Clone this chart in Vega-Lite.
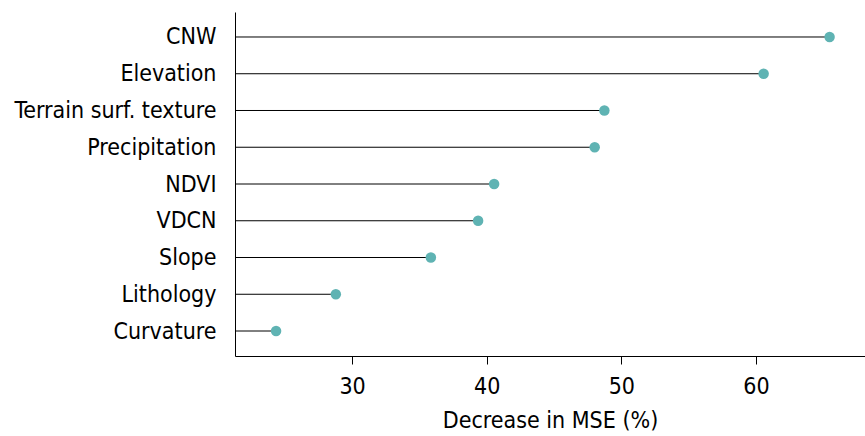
{
  "$schema": "https://vega.github.io/schema/vega-lite/v6.json",
  "width": 630,
  "height": 344,
  "autosize": "none",
  "padding": {"left": 235, "top": 12, "right": 0, "bottom": 80},
  "background": "white",
  "config": {
    "view": {"stroke": null},
    "font": "DejaVu Sans Condensed",
    "axis": {"grid": false, "domainColor": "black", "tickColor": "black", "labelColor": "black", "titleColor": "black", "labelFont": "DejaVu Sans Condensed", "titleFont": "DejaVu Sans Condensed", "titleFontWeight": "normal"}
  },
  "data": {
    "values": [
      {"variable": "CNW", "value": 65.47},
      {"variable": "Elevation", "value": 60.57},
      {"variable": "Terrain surf. texture", "value": 48.74},
      {"variable": "Precipitation", "value": 48.02},
      {"variable": "NDVI", "value": 40.55},
      {"variable": "VDCN", "value": 39.36},
      {"variable": "Slope", "value": 35.85},
      {"variable": "Lithology", "value": 28.79},
      {"variable": "Curvature", "value": 24.35}
    ]
  },
  "encoding": {
    "y": {
      "field": "variable",
      "type": "nominal",
      "sort": null,
      "scale": {"type": "point", "padding": 0.68},
      "axis": {"title": null, "ticks": false, "labelFontSize": 23, "labelPadding": 19, "labelLimit": 400, "domainWidth": 1}
    }
  },
  "layer": [
    {
      "mark": {"type": "rule", "color": "black", "strokeWidth": 1},
      "encoding": {
        "x": {
          "field": "value",
          "type": "quantitative",
          "scale": {"domain": [21.3, 68.1], "nice": false, "zero": false},
          "axis": {"title": "Decrease in MSE (%)", "values": [30, 40, 50, 60], "labelFontSize": 23, "titleFontSize": 23, "tickSize": 8, "labelPadding": 11, "titlePadding": 11, "domainWidth": 1}
        },
        "x2": {"datum": 21.3}
      }
    },
    {
      "mark": {"type": "circle", "color": "#5fb3b3", "opacity": 1, "size": 110},
      "encoding": {
        "x": {"field": "value", "type": "quantitative"}
      }
    }
  ]
}
